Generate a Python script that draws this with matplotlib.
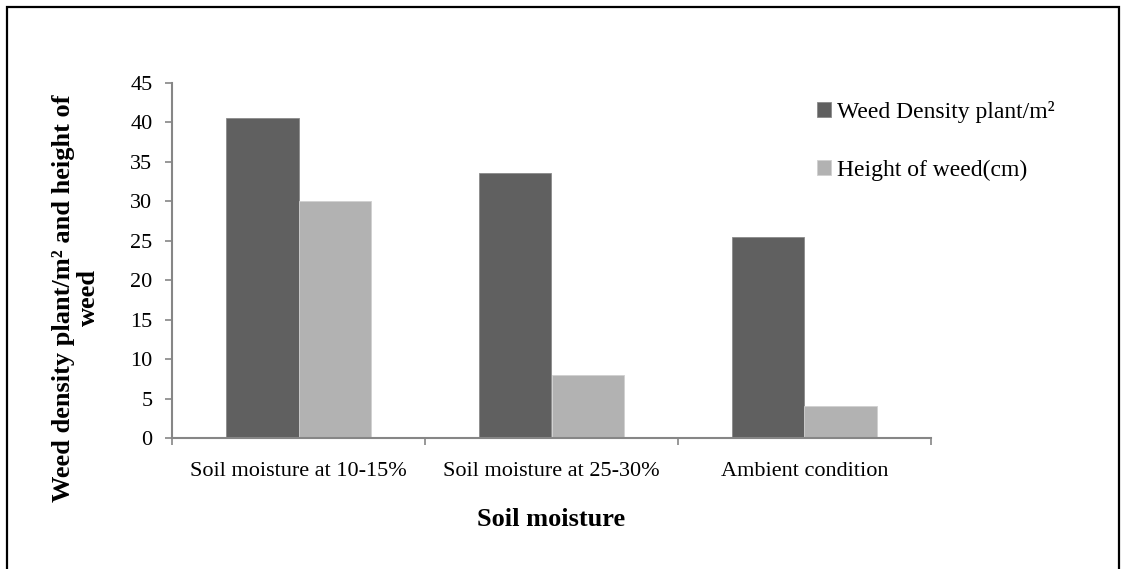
import numpy as np
import matplotlib.pyplot as plt
from matplotlib.patches import Rectangle
from matplotlib.ticker import FixedLocator

plt.rcParams["font.family"] = ["Liberation Serif", "DejaVu Serif"]

# Data
categories = ["Soil moisture at 10-15%", "Soil moisture at 25-30%", "Ambient condition"]
weed_density = [40.6, 33.6, 25.5]
weed_height = [30.0, 8.0, 4.0]
series_labels = ["Weed Density plant/m²", "Height of weed(cm)"]

W, H = 1125, 569
fig = plt.figure(figsize=(W / 100, H / 100), dpi=100)
ax = fig.add_axes([172 / W, 1 - 438 / H, 759 / W, 355 / H])

x = np.arange(len(categories))
width = 1 / 3.5  # gap width 150%
axis_grey = "#868686"

b1 = ax.bar(x - width / 2, weed_density, width, color="#606060",
            edgecolor="#8a8a8a", linewidth=0.6, label=series_labels[0])
b2 = ax.bar(x + width / 2, weed_height, width, color="#b2b2b2",
            edgecolor="#d0d0d0", linewidth=0.6, label=series_labels[1])

ax.set_xlim(-0.5, len(categories) - 0.5)
ax.set_ylim(0, 45)
ax.set_yticks(np.arange(0, 46, 5))

ax.set_xticks(x)
ax.set_xticklabels(categories, fontsize=16)
ax.xaxis.set_minor_locator(FixedLocator(np.arange(-0.5, len(categories), 1)))
ax.tick_params(axis="x", which="major", length=0, pad=17)
ax.tick_params(axis="x", which="minor", length=5, width=1.2, color=axis_grey)
ax.tick_params(axis="y", labelsize=16, length=5, width=1.2, color=axis_grey, pad=9)

for side in ["top", "right"]:
    ax.spines[side].set_visible(False)
for side in ["left", "bottom"]:
    ax.spines[side].set_color(axis_grey)
    ax.spines[side].set_linewidth(1.5)

ax.set_xlabel("Soil moisture", fontsize=19, fontweight="bold", labelpad=20)
fig.text(76 / W, 1 - 298 / H, "Weed density plant/m² and height of\nweed",
         rotation=90, ha="center", va="center", fontsize=19,
         fontweight="bold", linespacing=1.1, multialignment="center")

fig.legend(handles=[b1, b2], loc="upper left",
           bbox_to_anchor=(817 / W, 1 - 101 / H), frameon=False,
           fontsize=17, handlelength=0.6, handleheight=0.6,
           handletextpad=0.25, labelspacing=1.55, borderpad=0, borderaxespad=0)

# outer frame
fig.patches.append(Rectangle((7 / W, -0.05), (1119 - 7) / W, 1 - 7 / H + 0.05,
                             transform=fig.transFigure, fill=False,
                             edgecolor="black", linewidth=1.6))

fig.savefig("out.png", dpi=100)
